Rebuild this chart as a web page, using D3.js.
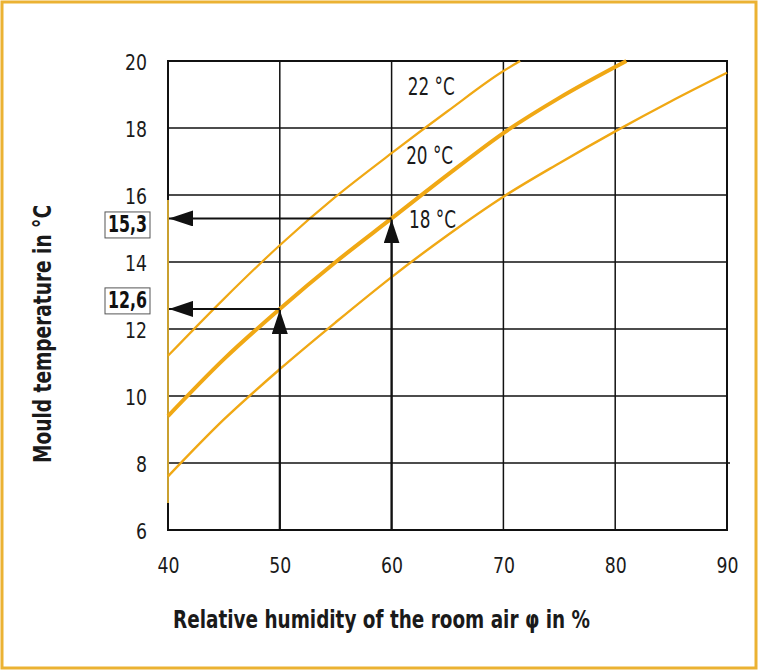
<!DOCTYPE html>
<html><head><meta charset="utf-8">
<script src="https://cdn.jsdelivr.net/npm/d3@7"></script>
<style>
html,body{margin:0;padding:0;background:#fff;}
svg{display:block;}
text{font-family:"DejaVu Sans Condensed","DejaVu Sans",sans-serif;}
</style></head>
<body>
<svg id="chart" width="760" height="671"></svg>
<script>
// ---- data ----
const xTicks = [40, 50, 60, 70, 80, 90];
const yTicks = [6, 8, 10, 12, 14, 16, 18, 20];
const curve22Hum = [40, 45, 50, 55, 60, 65, 70, 71.5];
const curve22Temp = [11.2, 12.9, 14.5, 15.95, 17.25, 18.5, 19.7, 20];
const curve20Hum = [40, 45, 50, 55, 60, 65, 70, 75, 81];
const curve20Temp = [9.4, 11.1, 12.6, 14.0, 15.3, 16.6, 17.85, 18.9, 20];
const curve18Hum = [40, 45, 50, 55, 60, 65, 70, 75, 80, 85, 90];
const curve18Temp = [7.6, 9.3, 10.8, 12.2, 13.55, 14.8, 15.95, 16.95, 17.9, 18.8, 19.65];
const curveLabels = ["22 °C", "20 °C", "18 °C"];
const labelHum = [61.45, 61.3, 61.55];
const labelTemp = [18.99, 16.93, 15.01];
const readHum = [60, 50];
const readTemp = [15.3, 12.6];
const readLabels = ["15,3", "12,6"];

// ---- layout ----
const svg = d3.select("#chart");
const orange = "#F0A814";
const border = "#EBB233";
const L = 168, R = 727, T = 61, B = 530;
const x = d3.scaleLinear().domain([40, 90]).range([L, R]);
const y = d3.scaleLinear().domain([6, 20]).range([B, T]);
const boxOffset = [-6.5, -21];

svg.append("rect").attr("x", 2).attr("y", 2).attr("width", 754).attr("height", 666)
  .attr("fill", "#fff").attr("stroke", border).attr("stroke-width", 3);

// grid
const g = svg.append("g");
g.selectAll(".hg").data(yTicks.slice(1, -1)).join("line")
  .attr("x1", L).attr("x2", d => d === 8 ? R + 3 : R)
  .attr("y1", d => y(d)).attr("y2", d => y(d))
  .attr("stroke", "#111").attr("stroke-width", 1.5);
g.selectAll(".vg").data(xTicks.slice(1, -1)).join("line")
  .attr("x1", d => x(d)).attr("x2", d => x(d))
  .attr("y1", T).attr("y2", B)
  .attr("stroke", "#111").attr("stroke-width", 1.5);
// frame
g.append("rect").attr("x", L).attr("y", T).attr("width", R - L).attr("height", B - T)
  .attr("fill", "none").attr("stroke", "#111").attr("stroke-width", 2);
// yellowish portion of left frame
g.append("line").attr("x1", L).attr("x2", L).attr("y1", 200).attr("y2", 503)
  .attr("stroke", "#C9A030").attr("stroke-width", 2);

// tick labels
const xAxis = d3.axisBottom(x).tickValues(xTicks).tickSize(0);
const xa = svg.append("g").attr("transform", `translate(0,${B})`).call(xAxis);
xa.select(".domain").remove();
xa.selectAll("text").attr("y", 43).attr("dy", null).attr("font-size", 22)
  .attr("fill", "#1a1a1a").attr("textLength", 22).attr("lengthAdjust", "spacingAndGlyphs");
const yAxis = d3.axisLeft(y).tickValues(yTicks).tickSize(0);
const ya = svg.append("g").attr("transform", `translate(${L},0)`).call(yAxis);
ya.select(".domain").remove();
ya.selectAll("text").attr("x", -21).attr("y", 8.5).attr("dy", null).attr("font-size", 22)
  .attr("fill", "#1a1a1a").attr("textLength", d => d < 10 ? 11 : 22).attr("lengthAdjust", "spacingAndGlyphs");

// curves
const line = d3.line().x(d => x(d[0])).y(d => y(d[1])).curve(d3.curveMonotoneX);
const series = [
  {h: curve22Hum, t: curve22Temp, w: 2.2},
  {h: curve20Hum, t: curve20Temp, w: 4},
  {h: curve18Hum, t: curve18Temp, w: 2.4}
];
series.forEach(s => {
  svg.append("path").datum(s.h.map((h, i) => [h, s.t[i]]))
    .attr("d", line).attr("fill", "none").attr("stroke", orange).attr("stroke-width", s.w);
});

// curve labels
svg.selectAll(".cl").data(curveLabels).join("text")
  .attr("x", (d, i) => x(labelHum[i])).attr("y", (d, i) => y(labelTemp[i]))
  .attr("font-size", 24).attr("fill", "#1a1a1a")
  .attr("textLength", 47).attr("lengthAdjust", "spacingAndGlyphs").text(d => d);

// reading arrows
const defs = svg.append("defs");
defs.append("marker").attr("id", "ah").attr("viewBox", "0 0 24 16")
  .attr("refX", 24).attr("refY", 8).attr("markerWidth", 24).attr("markerHeight", 16)
  .attr("markerUnits", "userSpaceOnUse").attr("orient", "auto")
  .append("path").attr("d", "M0,0 L24,8 L0,16 Z").attr("fill", "#111");
readHum.forEach((h, i) => {
  const t = readTemp[i];
  svg.append("line").attr("x1", x(h)).attr("x2", x(h)).attr("y1", B).attr("y2", y(t) + 1)
    .attr("stroke", "#111").attr("stroke-width", 2.2).attr("marker-end", "url(#ah)");
  svg.append("line").attr("x1", x(h)).attr("x2", L + 1).attr("y1", y(t)).attr("y2", y(t))
    .attr("stroke", "#111").attr("stroke-width", 2).attr("marker-end", "url(#ah)");
  const top = y(t) + boxOffset[i];
  svg.append("rect").attr("x", 105).attr("y", top).attr("width", 45).attr("height", 26)
    .attr("fill", "#fff").attr("stroke", "#555").attr("stroke-width", 1);
  svg.append("text").attr("x", 108).attr("y", top + 20.5)
    .attr("font-size", 23).attr("font-weight", "bold").attr("fill", "#111")
    .attr("textLength", 39).attr("lengthAdjust", "spacingAndGlyphs").text(readLabels[i]);
});

// axis titles
svg.append("text").attr("x", 173).attr("y", 628)
  .attr("font-size", 25).attr("font-weight", "bold").attr("fill", "#1a1a1a")
  .attr("textLength", 417).attr("lengthAdjust", "spacingAndGlyphs")
  .text("Relative humidity of the room air φ in %");
svg.append("text").attr("transform", "translate(50.5,463) rotate(-90)")
  .attr("font-size", 25).attr("font-weight", "bold").attr("fill", "#1a1a1a")
  .attr("textLength", 258).attr("lengthAdjust", "spacingAndGlyphs")
  .text("Mould temperature in °C");
</script>
</body></html>
